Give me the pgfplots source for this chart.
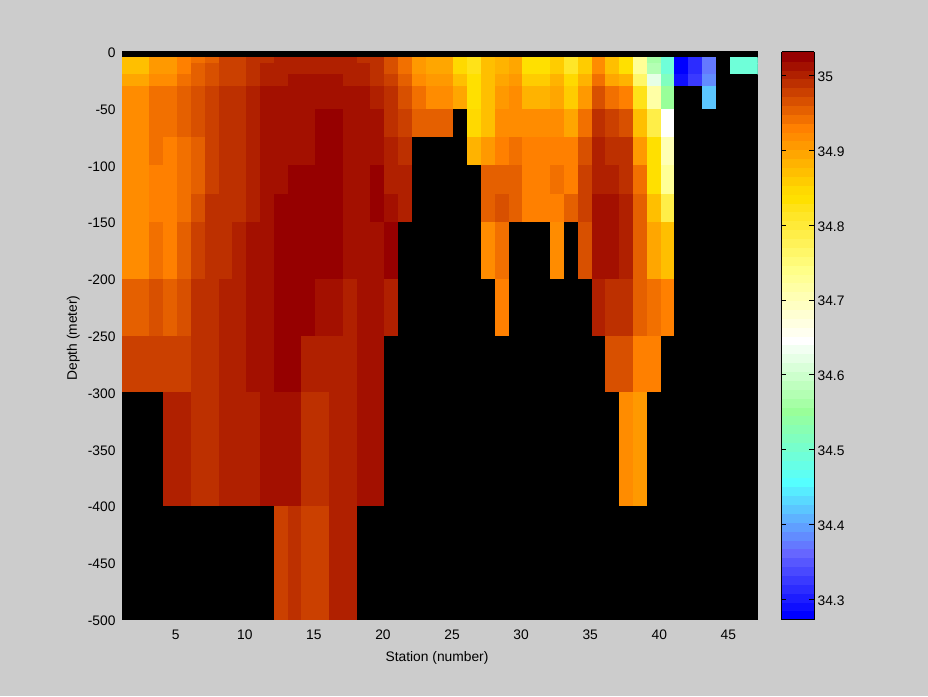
\documentclass[border=0pt]{standalone}
\usepackage{pgfplots}
\pgfplotsset{compat=1.18}
\usepackage{fontspec}
\setmainfont{Liberation Sans}
\definecolor{bgg}{RGB}{204,204,204}
\newcommand{\lf}{\fontsize{13.8}{15}\selectfont}
\pgfplotstableread{
s d v
1 -5 34.872
2 -5 34.872
3 -5 34.907
4 -5 34.907
5 -5 34.931
6 -5 34.943
7 -5 34.955
8 -5 34.979
9 -5 34.979
10 -5 34.99
11 -5 34.99
12 -5 35.002
13 -5 35.002
14 -5 35.002
15 -5 35.002
16 -5 35.002
17 -5 35.002
18 -5 34.99
19 -5 34.99
20 -5 34.967
21 -5 34.943
22 -5 34.907
23 -5 34.895
24 -5 34.895
25 -5 34.848
26 -5 34.824
27 -5 34.872
28 -5 34.884
29 -5 34.895
30 -5 34.836
31 -5 34.836
32 -5 34.86
33 -5 34.812
34 -5 34.86
35 -5 34.919
36 -5 34.872
37 -5 34.836
38 -5 34.73
39 -5 34.563
40 -5 34.492
41 -5 34.279
42 -5 34.314
43 -5 34.374
44 -5 34.26
45 -5 34.492
46 -5 34.492
47 -5 34.26
1 -10 34.872
2 -10 34.872
3 -10 34.907
4 -10 34.907
5 -10 34.931
6 -10 34.955
7 -10 34.967
8 -10 34.979
9 -10 34.979
10 -10 34.99
11 -10 35.002
12 -10 35.002
13 -10 35.002
14 -10 35.002
15 -10 35.002
16 -10 35.002
17 -10 35.002
18 -10 35.002
19 -10 34.99
20 -10 34.967
21 -10 34.943
22 -10 34.907
23 -10 34.895
24 -10 34.895
25 -10 34.848
26 -10 34.824
27 -10 34.872
28 -10 34.884
29 -10 34.895
30 -10 34.836
31 -10 34.836
32 -10 34.86
33 -10 34.812
34 -10 34.86
35 -10 34.919
36 -10 34.872
37 -10 34.836
38 -10 34.73
39 -10 34.575
40 -10 34.492
41 -10 34.279
42 -10 34.314
43 -10 34.374
44 -10 34.26
45 -10 34.492
46 -10 34.492
47 -10 34.26
1 -20 34.895
2 -20 34.895
3 -20 34.919
4 -20 34.919
5 -20 34.943
6 -20 34.955
7 -20 34.967
8 -20 34.979
9 -20 34.979
10 -20 34.99
11 -20 35.002
12 -20 35.002
13 -20 35.014
14 -20 35.014
15 -20 35.014
16 -20 35.014
17 -20 35.002
18 -20 35.002
19 -20 34.99
20 -20 34.979
21 -20 34.955
22 -20 34.919
23 -20 34.907
24 -20 34.907
25 -20 34.872
26 -20 34.836
27 -20 34.872
28 -20 34.895
29 -20 34.907
30 -20 34.86
31 -20 34.86
32 -20 34.884
33 -20 34.848
34 -20 34.884
35 -20 34.943
36 -20 34.895
37 -20 34.884
38 -20 34.765
39 -20 34.623
40 -20 34.516
41 -20 34.291
42 -20 34.326
43 -20 34.386
44 -20 34.26
45 -20 34.26
46 -20 34.26
47 -20 34.26
1 -30 34.919
2 -30 34.919
3 -30 34.943
4 -30 34.943
5 -30 34.955
6 -30 34.967
7 -30 34.979
8 -30 34.99
9 -30 34.99
10 -30 35.002
11 -30 35.014
12 -30 35.014
13 -30 35.014
14 -30 35.014
15 -30 35.014
16 -30 35.014
17 -30 35.014
18 -30 35.014
19 -30 35.002
20 -30 34.99
21 -30 34.967
22 -30 34.943
23 -30 34.919
24 -30 34.919
25 -30 34.895
26 -30 34.836
27 -30 34.872
28 -30 34.907
29 -30 34.919
30 -30 34.884
31 -30 34.884
32 -30 34.895
33 -30 34.86
34 -30 34.907
35 -30 34.967
36 -30 34.943
37 -30 34.931
38 -30 34.824
39 -30 34.718
40 -30 34.552
41 -30 34.26
42 -30 34.26
43 -30 34.421
44 -30 34.26
45 -30 34.26
46 -30 34.26
47 -30 34.26
1 -50 34.919
2 -50 34.919
3 -50 34.943
4 -50 34.943
5 -50 34.955
6 -50 34.967
7 -50 34.979
8 -50 34.99
9 -50 34.99
10 -50 35.002
11 -50 35.014
12 -50 35.014
13 -50 35.014
14 -50 35.014
15 -50 35.026
16 -50 35.026
17 -50 35.014
18 -50 35.014
19 -50 35.014
20 -50 34.99
21 -50 34.979
22 -50 34.955
23 -50 34.955
24 -50 34.955
25 -50 34.26
26 -50 34.848
27 -50 34.872
28 -50 34.919
29 -50 34.919
30 -50 34.919
31 -50 34.919
32 -50 34.919
33 -50 34.895
34 -50 34.943
35 -50 34.99
36 -50 34.979
37 -50 34.967
38 -50 34.872
39 -50 34.789
40 -50 34.646
41 -50 34.26
42 -50 34.26
43 -50 34.26
44 -50 34.26
45 -50 34.26
46 -50 34.26
47 -50 34.26
1 -75 34.919
2 -75 34.919
3 -75 34.943
4 -75 34.931
5 -75 34.943
6 -75 34.955
7 -75 34.979
8 -75 34.99
9 -75 34.99
10 -75 35.002
11 -75 35.014
12 -75 35.014
13 -75 35.014
14 -75 35.014
15 -75 35.026
16 -75 35.026
17 -75 35.014
18 -75 35.014
19 -75 35.014
20 -75 35.002
21 -75 34.99
22 -75 34.26
23 -75 34.26
24 -75 34.26
25 -75 34.26
26 -75 34.884
27 -75 34.907
28 -75 34.931
29 -75 34.943
30 -75 34.931
31 -75 34.931
32 -75 34.931
33 -75 34.931
34 -75 34.967
35 -75 35.002
36 -75 34.99
37 -75 34.99
38 -75 34.907
39 -75 34.836
40 -75 34.706
41 -75 34.26
42 -75 34.26
43 -75 34.26
44 -75 34.26
45 -75 34.26
46 -75 34.26
47 -75 34.26
1 -100 34.919
2 -100 34.919
3 -100 34.931
4 -100 34.931
5 -100 34.943
6 -100 34.955
7 -100 34.979
8 -100 34.99
9 -100 34.99
10 -100 35.002
11 -100 35.014
12 -100 35.014
13 -100 35.026
14 -100 35.026
15 -100 35.026
16 -100 35.026
17 -100 35.014
18 -100 35.014
19 -100 35.026
20 -100 35.002
21 -100 35.002
22 -100 34.26
23 -100 34.26
24 -100 34.26
25 -100 34.26
26 -100 34.26
27 -100 34.955
28 -100 34.955
29 -100 34.955
30 -100 34.931
31 -100 34.931
32 -100 34.943
33 -100 34.931
34 -100 34.979
35 -100 35.002
36 -100 35.002
37 -100 34.99
38 -100 34.943
39 -100 34.836
40 -100 34.73
41 -100 34.26
42 -100 34.26
43 -100 34.26
44 -100 34.26
45 -100 34.26
46 -100 34.26
47 -100 34.26
1 -125 34.919
2 -125 34.919
3 -125 34.931
4 -125 34.931
5 -125 34.943
6 -125 34.967
7 -125 34.99
8 -125 34.99
9 -125 34.99
10 -125 35.002
11 -125 35.014
12 -125 35.026
13 -125 35.026
14 -125 35.026
15 -125 35.026
16 -125 35.026
17 -125 35.014
18 -125 35.014
19 -125 35.026
20 -125 35.014
21 -125 35.002
22 -125 34.26
23 -125 34.26
24 -125 34.26
25 -125 34.26
26 -125 34.26
27 -125 34.955
28 -125 34.967
29 -125 34.955
30 -125 34.931
31 -125 34.931
32 -125 34.931
33 -125 34.955
34 -125 34.979
35 -125 35.014
36 -125 35.014
37 -125 35.002
38 -125 34.955
39 -125 34.872
40 -125 34.789
41 -125 34.26
42 -125 34.26
43 -125 34.26
44 -125 34.26
45 -125 34.26
46 -125 34.26
47 -125 34.26
1 -150 34.919
2 -150 34.919
3 -150 34.943
4 -150 34.931
5 -150 34.955
6 -150 34.979
7 -150 34.99
8 -150 34.99
9 -150 35.002
10 -150 35.014
11 -150 35.014
12 -150 35.026
13 -150 35.026
14 -150 35.026
15 -150 35.026
16 -150 35.026
17 -150 35.014
18 -150 35.014
19 -150 35.014
20 -150 35.026
21 -150 34.26
22 -150 34.26
23 -150 34.26
24 -150 34.26
25 -150 34.26
26 -150 34.26
27 -150 34.919
28 -150 34.943
29 -150 34.26
30 -150 34.26
31 -150 34.26
32 -150 34.919
33 -150 34.26
34 -150 34.967
35 -150 35.014
36 -150 35.014
37 -150 35.002
38 -150 34.955
39 -150 34.895
40 -150 34.872
41 -150 34.26
42 -150 34.26
43 -150 34.26
44 -150 34.26
45 -150 34.26
46 -150 34.26
47 -150 34.26
1 -200 34.955
2 -200 34.955
3 -200 34.967
4 -200 34.955
5 -200 34.967
6 -200 34.99
7 -200 34.99
8 -200 35.002
9 -200 35.002
10 -200 35.014
11 -200 35.014
12 -200 35.026
13 -200 35.026
14 -200 35.026
15 -200 35.014
16 -200 35.014
17 -200 35.002
18 -200 35.014
19 -200 35.014
20 -200 35.002
21 -200 34.26
22 -200 34.26
23 -200 34.26
24 -200 34.26
25 -200 34.26
26 -200 34.26
27 -200 34.26
28 -200 34.931
29 -200 34.26
30 -200 34.26
31 -200 34.26
32 -200 34.26
33 -200 34.26
34 -200 34.26
35 -200 35.002
36 -200 34.99
37 -200 34.99
38 -200 34.955
39 -200 34.943
40 -200 34.931
41 -200 34.26
42 -200 34.26
43 -200 34.26
44 -200 34.26
45 -200 34.26
46 -200 34.26
47 -200 34.26
1 -250 34.979
2 -250 34.979
3 -250 34.979
4 -250 34.979
5 -250 34.979
6 -250 34.99
7 -250 34.99
8 -250 35.002
9 -250 35.002
10 -250 35.014
11 -250 35.014
12 -250 35.026
13 -250 35.026
14 -250 35.002
15 -250 35.002
16 -250 35.002
17 -250 35.002
18 -250 35.014
19 -250 35.014
20 -250 34.26
21 -250 34.26
22 -250 34.26
23 -250 34.26
24 -250 34.26
25 -250 34.26
26 -250 34.26
27 -250 34.26
28 -250 34.26
29 -250 34.26
30 -250 34.26
31 -250 34.26
32 -250 34.26
33 -250 34.26
34 -250 34.26
35 -250 34.26
36 -250 34.967
37 -250 34.967
38 -250 34.931
39 -250 34.931
40 -250 34.26
41 -250 34.26
42 -250 34.26
43 -250 34.26
44 -250 34.26
45 -250 34.26
46 -250 34.26
47 -250 34.26
1 -300 34.26
2 -300 34.26
3 -300 34.26
4 -300 35.002
5 -300 35.002
6 -300 34.99
7 -300 34.99
8 -300 35.002
9 -300 35.002
10 -300 35.002
11 -300 35.014
12 -300 35.014
13 -300 35.014
14 -300 34.99
15 -300 34.99
16 -300 35.002
17 -300 35.002
18 -300 35.014
19 -300 35.014
20 -300 34.26
21 -300 34.26
22 -300 34.26
23 -300 34.26
24 -300 34.26
25 -300 34.26
26 -300 34.26
27 -300 34.26
28 -300 34.26
29 -300 34.26
30 -300 34.26
31 -300 34.26
32 -300 34.26
33 -300 34.26
34 -300 34.26
35 -300 34.26
36 -300 34.26
37 -300 34.919
38 -300 34.907
39 -300 34.26
40 -300 34.26
41 -300 34.26
42 -300 34.26
43 -300 34.26
44 -300 34.26
45 -300 34.26
46 -300 34.26
47 -300 34.26
1 -400 34.26
2 -400 34.26
3 -400 34.26
4 -400 34.26
5 -400 34.26
6 -400 34.26
7 -400 34.26
8 -400 34.26
9 -400 34.26
10 -400 34.26
11 -400 34.26
12 -400 34.979
13 -400 34.99
14 -400 34.979
15 -400 34.979
16 -400 35.002
17 -400 35.002
18 -400 34.26
19 -400 34.26
20 -400 34.26
21 -400 34.26
22 -400 34.26
23 -400 34.26
24 -400 34.26
25 -400 34.26
26 -400 34.26
27 -400 34.26
28 -400 34.26
29 -400 34.26
30 -400 34.26
31 -400 34.26
32 -400 34.26
33 -400 34.26
34 -400 34.26
35 -400 34.26
36 -400 34.26
37 -400 34.26
38 -400 34.26
39 -400 34.26
40 -400 34.26
41 -400 34.26
42 -400 34.26
43 -400 34.26
44 -400 34.26
45 -400 34.26
46 -400 34.26
47 -400 34.26
1 -500 34.26
2 -500 34.26
3 -500 34.26
4 -500 34.26
5 -500 34.26
6 -500 34.26
7 -500 34.26
8 -500 34.26
9 -500 34.26
10 -500 34.26
11 -500 34.26
12 -500 34.26
13 -500 34.26
14 -500 34.26
15 -500 34.26
16 -500 34.26
17 -500 34.26
18 -500 34.26
19 -500 34.26
20 -500 34.26
21 -500 34.26
22 -500 34.26
23 -500 34.26
24 -500 34.26
25 -500 34.26
26 -500 34.26
27 -500 34.26
28 -500 34.26
29 -500 34.26
30 -500 34.26
31 -500 34.26
32 -500 34.26
33 -500 34.26
34 -500 34.26
35 -500 34.26
36 -500 34.26
37 -500 34.26
38 -500 34.26
39 -500 34.26
40 -500 34.26
41 -500 34.26
42 -500 34.26
43 -500 34.26
44 -500 34.26
45 -500 34.26
46 -500 34.26
47 -500 34.26
}\salinity
\pgfplotsset{colormap={salin}{
rgb255=(0,0,0)
rgb255=(0,0,255) rgb255=(15,15,255) rgb255=(29,29,255) rgb255=(44,44,255) rgb255=(58,58,255) rgb255=(73,73,255) rgb255=(87,87,255)
rgb255=(102,102,255) rgb255=(100,121,255) rgb255=(98,140,255) rgb255=(96,159,255) rgb255=(94,178,255) rgb255=(91,198,255) rgb255=(89,217,255) rgb255=(87,236,255)
rgb255=(85,255,255) rgb255=(94,255,242) rgb255=(102,255,230) rgb255=(111,255,217) rgb255=(119,255,204) rgb255=(128,255,191) rgb255=(136,255,179) rgb255=(145,255,166)
rgb255=(153,255,153) rgb255=(166,255,166) rgb255=(179,255,179) rgb255=(191,255,191) rgb255=(204,255,204) rgb255=(217,255,217) rgb255=(230,255,230) rgb255=(242,255,242)
rgb255=(255,255,255) rgb255=(255,255,240) rgb255=(255,255,225) rgb255=(255,255,210) rgb255=(255,255,195) rgb255=(255,255,180) rgb255=(255,255,165) rgb255=(255,255,150)
rgb255=(255,255,136) rgb255=(255,251,120) rgb255=(255,247,104) rgb255=(255,242,88) rgb255=(255,238,72) rgb255=(255,234,56) rgb255=(255,230,40) rgb255=(255,226,24)
rgb255=(255,224,0) rgb255=(255,217,0) rgb255=(255,204,0) rgb255=(255,191,0) rgb255=(255,179,0) rgb255=(255,166,0) rgb255=(255,153,0) rgb255=(255,140,0)
rgb255=(255,128,0) rgb255=(242,112,0) rgb255=(229,96,0) rgb255=(216,80,0) rgb255=(203,64,0) rgb255=(189,48,0) rgb255=(176,32,0) rgb255=(163,16,0)
rgb255=(150,0,0)
}}
\begin{document}
\begin{tikzpicture}[x=1pt,y=1pt]
\fill[bgg] (0,0) rectangle (928,696);
\useasboundingbox (0,0) rectangle (928,696);
\begin{axis}[
  at={(122pt,76.5pt)},anchor=south west,
  scale only axis,width=635.5pt,height=567.5pt,
  xmin=1,xmax=47,ymin=-500,ymax=0,
  axis background/.style={fill=black},
  axis line style={black,line width=1pt},
  tick style={draw=none},
  xtick={5,10,...,45},
  ytick={-500,-450,-400,-350,-300,-250,-200,-150,-100,-50,0},
  yticklabels={-500,-450,-400,-350,-300,-250,-200,-150,-100,-50,0},
  xticklabels={5,10,15,20,25,30,35,40,45},
  tick label style={font=\lf},
  x tick label style={yshift=-7pt,xshift=-1.5pt},
  y tick label style={xshift=-3pt,yshift=-1pt},
  xlabel={Station (number)},ylabel={Depth (meter)},
  every axis x label/.style={at={(axis description cs:0.4957,-0.0678)},anchor=center,font=\lf},
  every axis y label/.style={at={(axis description cs:-0.0766,0.496)},rotate=90,anchor=center,font=\lf},
  colormap name=salin,
  colormap access=piecewise constant,
  point meta min=34.2612,point meta max=35.0316,
  colorbar sampled,
  colorbar style={
    samples=66,
    at={(parent axis.north east)},anchor=north west,xshift=15.5pt,
    scale only axis,width=32.5pt,height=567.5pt,
    ymin=34.2731,ymax=35.0316,
    ytick={34.3,34.4,34.5,34.6,34.7,34.8,34.9,35},
    yticklabels={34.3,34.4,34.5,34.6,34.7,34.8,34.9,35},
    ytick pos=both,yticklabel pos=right,
    tick align=inside,
    major tick length=4.7pt,
    tick style={draw=black,line width=1pt},
    axis line style={black,line width=1pt},
    tick label style={font=\lf},
    y tick label style={yshift=-1pt},
  },
]
\addplot[surf,shader=flat corner,mesh/cols=47,mesh/ordering=x varies,point meta=\thisrow{v}] table[x=s,y=d] {\salinity};
\end{axis}
\end{tikzpicture}
\end{document}
